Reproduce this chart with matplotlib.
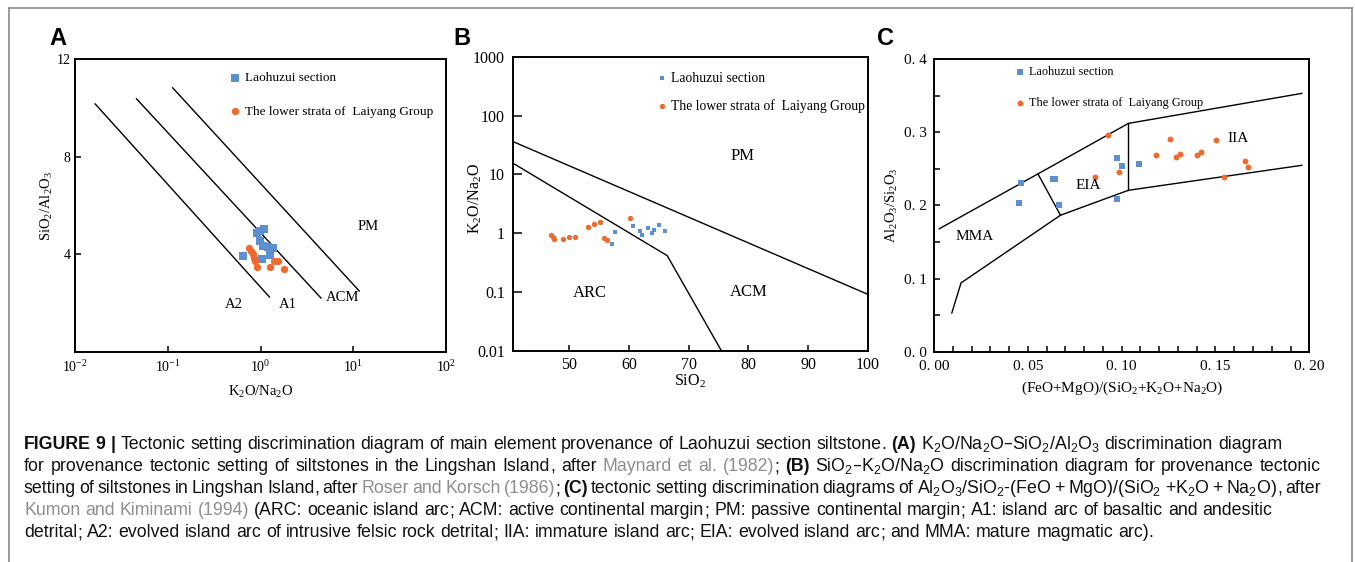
import matplotlib
matplotlib.use('Agg')
import matplotlib.pyplot as plt
from matplotlib.lines import Line2D
from matplotlib.transforms import IdentityTransform
from matplotlib.ticker import FixedLocator, FixedFormatter, NullLocator

plt.rcParams['font.family'] = 'Liberation Serif'
plt.rcParams['mathtext.default'] = 'regular'
plt.rcParams['xtick.direction'] = 'in'
plt.rcParams['ytick.direction'] = 'in'

BLUE = '#5b8fd0'
ORANGE = '#ee6b2e'
GRAY = '#8e8e8e'

# ---- A: K2O/Na2O vs SiO2/Al2O3 ----
a_blue_x = [0.65, 0.91, 0.98, 1.09, 0.98, 1.07, 1.21, 1.37, 1.28, 1.05]
a_blue_y = [3.94, 4.86, 4.97, 5.02, 4.56, 4.35, 4.29, 4.27, 3.97, 3.82]
a_orange_x = [0.75, 0.79, 0.83, 0.85, 0.88, 0.91, 1.26, 1.41, 1.55, 1.81]
a_orange_y = [4.25, 4.15, 4.00, 3.87, 3.73, 3.49, 3.47, 3.74, 3.73, 3.40]
a_bounds_x = [[0.0165, 1.25], [0.046, 4.49], [0.113, 11.6]]
a_bounds_y = [[10.16, 2.25], [10.37, 2.21], [10.82, 2.5]]
a_regions = [('A2', 0.51, 1.93), ('A1', 1.96, 1.93), ('ACM', 7.6, 2.25), ('PM', 14.4, 5.12)]

# ---- B: SiO2 vs K2O/Na2O ----
b_blue_x = [57.1, 57.7, 60.6, 61.8, 62.1, 63.2, 63.9, 64.1, 65.0, 66.1]
b_blue_y = [0.66, 1.07, 1.32, 1.11, 0.94, 1.25, 1.03, 1.14, 1.39, 1.11]
b_orange_x = [46.9, 47.2, 47.4, 49.0, 50.0, 51.0, 53.1, 54.2, 55.1, 55.8, 56.3, 60.2]
b_orange_y = [0.94, 0.86, 0.81, 0.80, 0.86, 0.86, 1.27, 1.43, 1.58, 0.83, 0.78, 1.85]
b_bounds_x = [[40.5, 100], [40.5, 66.4, 75.5]]
b_bounds_y = [[36.3, 0.092], [15.6, 0.417, 0.01]]
b_regions = [('PM', 79.1, 20.7), ('ARC', 53.4, 0.095), ('ACM', 80, 0.1)]

# ---- C: (FeO+MgO)/(SiO2+K2O+Na2O) vs Al2O3/SiO2 ----
c_blue_x = [0.0464, 0.0453, 0.0647, 0.0635, 0.0667, 0.0973, 0.1002, 0.0977, 0.1091]
c_blue_y = [0.2306, 0.2038, 0.2356, 0.2356, 0.2006, 0.2643, 0.2538, 0.2083, 0.2570]
c_orange_x = [0.0857, 0.0927, 0.0986, 0.1185, 0.1255, 0.1289, 0.1312, 0.1401, 0.1422,
              0.1501, 0.1547, 0.1659, 0.1675]
c_orange_y = [0.2393, 0.2966, 0.2452, 0.2693, 0.2906, 0.2666, 0.2701, 0.2693, 0.2729,
              0.2898, 0.2383, 0.2606, 0.2529]
c_bounds_x = [[0.0028, 0.0554, 0.1036, 0.196], [0.0095, 0.0144, 0.0674, 0.1036, 0.196],
              [0.0554, 0.0674], [0.1036, 0.1036]]
c_bounds_y = [[0.168, 0.243, 0.312, 0.353], [0.053, 0.094, 0.1865, 0.2206, 0.2547],
              [0.243, 0.1865], [0.312, 0.2206]]
c_regions = [('MMA', 0.0219, 0.158), ('EIA', 0.0822, 0.2265), ('IIA', 0.162, 0.291)]

lab_blue = 'Laohuzui section'
lab_orange = 'The lower strata of  Laiyang Group'

W, H = 1355, 562
fig = plt.figure(figsize=(W / 100, H / 100), dpi=100)


def px_axes(left, top, right, bottom):
    return fig.add_axes([left / W, 1 - bottom / H, (right - left) / W, (bottom - top) / H])


def style_axes(ax, tick_len_x, tick_len_y, pad_x, pad_y, fs):
    for sp in ax.spines.values():
        sp.set_linewidth(1.4)
    ax.tick_params(axis='x', which='both', length=tick_len_x, width=1.1, pad=pad_x, labelsize=fs, top=False)
    ax.tick_params(axis='y', which='both', length=tick_len_y, width=1.1, pad=pad_y, labelsize=fs, right=False)


# panel A
axA = px_axes(75, 59, 446, 352)
axA.set_xscale('log')
axA.set_xlim(0.01, 100)
axA.set_ylim(0, 12)
for xs, ys in zip(a_bounds_x, a_bounds_y):
    axA.plot(xs, ys, color='black', lw=1.0)
sa1 = axA.scatter(a_blue_x, a_blue_y, marker='s', s=26, color=BLUE, lw=0, label=lab_blue, zorder=3)
sa2 = axA.scatter(a_orange_x, a_orange_y, marker='o', s=28, color=ORANGE, lw=0, label=lab_orange, zorder=3)
for t, x, y in a_regions:
    axA.text(x, y, t, fontsize=10.5, ha='center', va='center')
axA.xaxis.set_major_locator(FixedLocator([0.01, 0.1, 1, 10, 100]))
axA.xaxis.set_major_formatter(FixedFormatter(['$10^{-2}$', '$10^{-1}$', '$10^{0}$', '$10^{1}$', '$10^{2}$']))
axA.xaxis.set_minor_locator(NullLocator())
axA.yaxis.set_major_locator(FixedLocator([4, 8, 12]))
style_axes(axA, 4, 4, 5, 3, 10)
axA.set_xlabel('K$_2$O/Na$_2$O', fontsize=10.5)
axA.set_ylabel('SiO$_2$/Al$_2$O$_3$', fontsize=10.5)
axA.xaxis.set_label_coords(0.5, -0.11)
axA.yaxis.set_label_coords(-0.055, 0.5)
axA.legend(handles=[sa1, sa2], loc='upper left', bbox_to_anchor=(0.417, 0.955), frameon=False,
           borderpad=0, borderaxespad=0, handlelength=0.8, handletextpad=0.36,
           labelspacing=1.59, fontsize=9.5, scatterpoints=1)

# panel B
axB = px_axes(512.7, 56.7, 867.7, 351)
axB.set_yscale('log')
axB.set_xlim(40.5, 100)
axB.set_ylim(0.01, 1000)
for xs, ys in zip(b_bounds_x, b_bounds_y):
    axB.plot(xs, ys, color='black', lw=1.0)
sb1 = axB.scatter(b_blue_x, b_blue_y, marker='s', s=12, color=BLUE, lw=0, label=lab_blue, zorder=3)
sb2 = axB.scatter(b_orange_x, b_orange_y, marker='o', s=15, color=ORANGE, lw=0, label=lab_orange, zorder=3)
for t, x, y in b_regions:
    axB.text(x, y, t, fontsize=12, ha='center', va='center')
axB.xaxis.set_major_locator(FixedLocator([50, 60, 70, 80, 90, 100]))
axB.yaxis.set_major_locator(FixedLocator([0.01, 0.1, 1, 10, 100, 1000]))
axB.yaxis.set_major_formatter(FixedFormatter(['0.01', '0.1', '1', '10', '100', '1000']))
axB.yaxis.set_minor_locator(NullLocator())
style_axes(axB, 4.5, 6.5, 4, 5.5, 11.5)
axB.set_xlabel('SiO$_2$', fontsize=11.5)
axB.set_ylabel('K$_2$O/Na$_2$O', fontsize=11.5)
axB.xaxis.set_label_coords(0.5, -0.075)
axB.yaxis.set_label_coords(-0.082, 0.52)
axB.legend(handles=[sb1, sb2], loc='upper left', bbox_to_anchor=(0.41, 0.949), frameon=False,
           borderpad=0, borderaxespad=0, handlelength=0.6, handletextpad=0.32,
           labelspacing=1.04, fontsize=9.8, scatterpoints=1)

# panel C
axC = px_axes(934, 59, 1309.3, 351.7)
axC.set_xlim(0, 0.2)
axC.set_ylim(0, 0.4)
for xs, ys in zip(c_bounds_x, c_bounds_y):
    axC.plot(xs, ys, color='black', lw=1.0)
sc1 = axC.scatter(c_blue_x, c_blue_y, marker='s', s=15, color=BLUE, lw=0, label=lab_blue, zorder=3)
sc2 = axC.scatter(c_orange_x, c_orange_y, marker='o', s=18, color=ORANGE, lw=0, label=lab_orange, zorder=3)
for t, x, y in c_regions:
    axC.text(x, y, t, fontsize=11, ha='center', va='center')
axC.xaxis.set_major_locator(FixedLocator([0, 0.05, 0.1, 0.15, 0.2]))
axC.xaxis.set_major_formatter(FixedFormatter(['0. 00', '0. 05', '0. 10', '0. 15', '0. 20']))
axC.xaxis.set_minor_locator(FixedLocator([i / 100 for i in range(1, 20)]))
axC.yaxis.set_major_locator(FixedLocator([0, 0.1, 0.2, 0.3, 0.4]))
axC.yaxis.set_major_formatter(FixedFormatter(['0. 0', '0. 1', '0. 2', '0. 3', '0. 4']))
axC.yaxis.set_minor_locator(FixedLocator([0.05, 0.15, 0.25, 0.35]))
style_axes(axC, 4, 4, 6, 5, 11)
axC.set_xlabel('(FeO+MgO)/(SiO$_2$+K$_2$O+Na$_2$O)', fontsize=11)
axC.set_ylabel('Al$_2$O$_3$/Si$_2$O$_3$', fontsize=10.5)
axC.xaxis.set_label_coords(0.5, -0.095)
axC.yaxis.set_label_coords(-0.09, 0.5)
axC.legend(handles=[sc1, sc2], loc='upper left', bbox_to_anchor=(0.2185, 0.977), frameon=False,
           borderpad=0, borderaxespad=0, handlelength=0.65, handletextpad=0.44,
           labelspacing=1.61, fontsize=8.8, scatterpoints=1)

# panel letters
for letter, x in [('A', 49), ('B', 453), ('C', 877)]:
    fig.text(x, H - 45, letter, transform=IdentityTransform(), fontsize=17,
             family='Liberation Sans', fontweight='bold', va='baseline')

# outer frame
for xs, ys in [([9, 1352], [H - 8, H - 8]), ([9, 9], [H - 8, 0]), ([1352, 1352], [H - 8, 0])]:
    fig.add_artist(Line2D(xs, ys, transform=IdentityTransform(), color='#808080', lw=1.1))

# ---- caption ----
caption = [
    ([('FIGURE 9 |', 'b'), (' Tectonic setting discrimination diagram of main element provenance of Laohuzui section siltstone. ', 'n'),
      ('(A)', 'b'), (' K$_2$O/Na$_2$O–SiO$_2$/Al$_2$O$_3$ discrimination diagram', 'n')], None),
    ([('for provenance tectonic setting of siltstones in the Lingshan Island, after ', 'n'), ('Maynard et al. (1982)', 'g'),
      ('; ', 'n'), ('(B)', 'b'), (' SiO$_2$–K$_2$O/Na$_2$O discrimination diagram for provenance tectonic', 'n')], 1321),
    ([('setting of siltstones in Lingshan Island, after ', 'n'), ('Roser and Korsch (1986)', 'g'), ('; ', 'n'), ('(C)', 'b'),
      (' tectonic setting discrimination diagrams of Al$_2$O$_3$/SiO$_2$-(FeO + MgO)/(SiO$_2$ +K$_2$O + Na$_2$O), after', 'n')], 1321),
    ([('Kumon and Kiminami (1994)', 'g'),
      (' (ARC: oceanic island arc; ACM: active continental margin; PM: passive continental margin; A1: island arc of basaltic and andesitic', 'n')], None),
    ([('detrital; A2: evolved island arc of intrusive felsic rock detrital; IIA: immature island arc; EIA: evolved island arc; and MMA: mature magmatic arc).', 'n')], None),
]
cap_base = [449, 471, 493, 515, 537]
cap_x0 = 24
renderer = fig.canvas.get_renderer()


def to_words(runs):
    words = [[]]
    for txt, st in runs:
        parts = txt.split(' ')
        for i, p in enumerate(parts):
            if i > 0:
                words.append([])
            if not p:
                continue
            # keep trailing punctuation apart, so the word keeps a clean baseline
            if len(p) > 1 and p[-1] in ',;.':
                words[-1].append((p[:-1], st))
                words[-1].append((p[-1], st))
            else:
                words[-1].append((p, st))
    return [w for w in words if w]


def put_word(x, y, word, fs, keep=True):
    for s, st in word:
        t = fig.text(x, y, s, transform=IdentityTransform(), fontsize=fs, family='Liberation Sans',
                     fontweight='bold' if st == 'b' else 'normal', color=GRAY if st == 'g' else '#111111',
                     va='baseline', ha='left')
        x += t.get_window_extent(renderer).width
        if not keep:
            t.remove()
    return x


def line_width(words, fs):
    sp = 0.278 * fs * 100 / 72
    total = sum(put_word(0, 0, w, fs, keep=False) for w in words)
    return total + sp * (len(words) - 1), total


# calibrate size so that first line is as wide as in the figure
base_fs = 11
nat, _ = line_width(to_words(caption[0][0]), base_fs)
cap_fs = base_fs * (1280 - cap_x0) / nat

for (runs, right), yb in zip(caption, cap_base):
    words = to_words(runs)
    sp = 0.278 * cap_fs * 100 / 72
    if right is not None:
        _, wsum = line_width(words, cap_fs)
        sp = (right - cap_x0 - wsum) / (len(words) - 1)
    x = cap_x0
    for w in words:
        x = put_word(x, H - yb, w, cap_fs) + sp

fig.savefig('out.png', dpi=100)
